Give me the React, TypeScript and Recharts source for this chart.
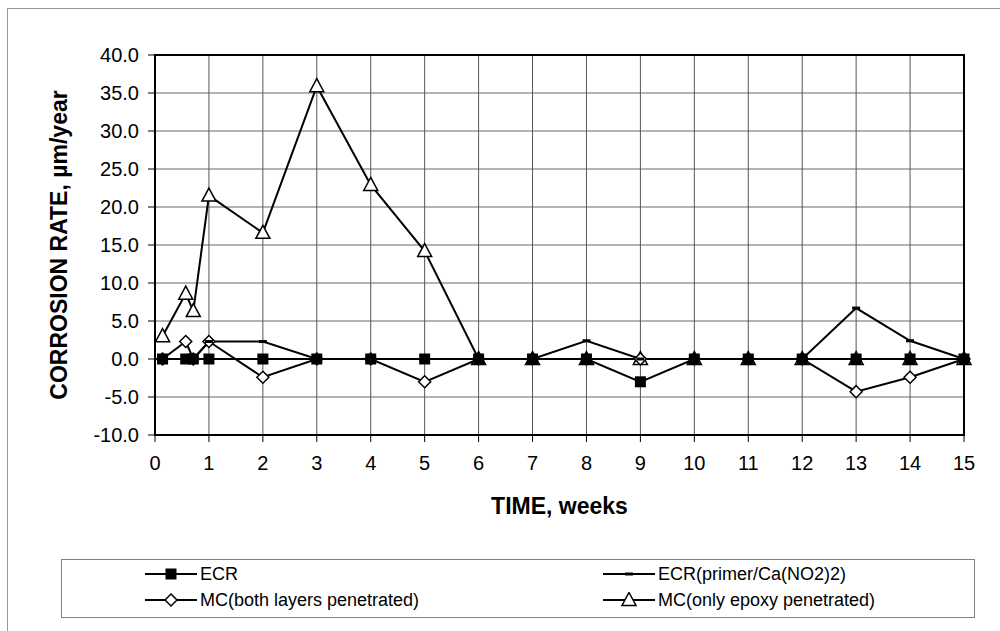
import React from 'react';
import {
  LineChart,
  Line,
  XAxis,
  YAxis,
  CartesianGrid,
  ReferenceArea,
} from 'recharts';

// ---- data ----
const weeks = [0.14, 0.57, 0.71, 1, 2, 3, 4, 5, 6, 7, 8, 9, 10, 11, 12, 13, 14, 15];
const ecr = [0, 0, 0, 0, 0, 0, 0, 0, 0, 0, 0, -3.0, 0, 0, 0, 0, 0, 0];
const ecrPrimer = [0, 0, 0, 2.3, 2.3, 0, 0, 0, 0, 0, 2.4, 0, 0, 0, 0, 6.7, 2.4, 0];
const mcBoth = [0, 2.3, 0, 2.3, -2.4, 0, 0, -3.0, 0, 0, 0, 0, 0, 0, 0, -4.3, -2.4, 0];
const mcEpoxy = [3.0, 8.6, 6.3, 21.5, 16.6, 35.9, 22.9, 14.2, 0, 0, 0, 0, 0, 0, 0, 0, 0, 0];

const xTicks = [0, 1, 2, 3, 4, 5, 6, 7, 8, 9, 10, 11, 12, 13, 14, 15];
const yTicks = [-10, -5, 0, 5, 10, 15, 20, 25, 30, 35, 40];

const seriesNames = {
  ecr: 'ECR',
  ecrPrimer: 'ECR(primer/Ca(NO2)2)',
  mcBoth: 'MC(both layers penetrated)',
  mcEpoxy: 'MC(only epoxy penetrated)',
};

const rows = weeks.map((t, i) => ({
  t,
  ecr: ecr[i],
  ecrPrimer: ecrPrimer[i],
  mcBoth: mcBoth[i],
  mcEpoxy: mcEpoxy[i],
}));

const FONT = '"Liberation Sans", Arial, sans-serif';

// ---- marker shapes ----
const Square = ({ cx, cy }: any) => <rect x={cx - 5.5} y={cy - 5.5} width={11} height={11} fill="#000" />;
const Dash = ({ cx, cy }: any) => <rect x={cx - 4} y={cy - 1.5} width={8} height={3} fill="#000" />;
const Diamond = ({ cx, cy }: any) => (
  <path d={`M${cx},${cy - 6} L${cx + 6},${cy} L${cx},${cy + 6} L${cx - 6},${cy} Z`} fill="#fff" stroke="#000" strokeWidth={1.5} />
);
const Triangle = ({ cx, cy }: any) => (
  <path d={`M${cx},${cy - 7.5} L${cx + 7},${cy + 5.5} L${cx - 7},${cy + 5.5} Z`} fill="#fff" stroke="#000" strokeWidth={1.5} />
);

const dotFn = (Shape: any, tag: string) => (p: any) => {
  if (p.cx == null || p.cy == null) return <g key={`${tag}-${p.index}`} />;
  return (
    <g key={`${tag}-${p.index}`}>
      <Shape cx={p.cx} cy={p.cy} />
    </g>
  );
};

const LegendIcon = ({ Shape }: any) => (
  <svg width={52} height={16} style={{ display: 'block' }}>
    <line x1={0} y1={8} x2={52} y2={8} stroke="#000" strokeWidth={2} />
    <Shape cx={26} cy={8} />
  </svg>
);

const legendItems = [
  { key: 'ecr', Shape: Square, left: 145, top: 574 },
  { key: 'ecrPrimer', Shape: Dash, left: 603, top: 574 },
  { key: 'mcBoth', Shape: Diamond, left: 145, top: 600 },
  { key: 'mcEpoxy', Shape: Triangle, left: 603, top: 600 },
];

export default function App() {
  return (
    <div
      style={{
        position: 'fixed',
        left: 0,
        top: 0,
        width: 1000,
        height: 631,
        overflow: 'hidden',
        background: '#fff',
        fontFamily: FONT,
      }}
    >
      <div
        style={{
          position: 'absolute',
          left: 7,
          top: 8,
          width: 1100,
          height: 800,
          border: '1px solid #999',
        }}
      />
      <div style={{ position: 'absolute', left: 0, top: 0 }}>
        <LineChart width={1000} height={631} data={rows} margin={{ top: 55, right: 36, bottom: 166, left: 95 }}>
          <CartesianGrid horizontal={true} vertical={false} stroke="#9a9a9a" strokeWidth={1.5} />
          <CartesianGrid horizontal={false} vertical={true} stroke="#555" strokeWidth={1} />
          <XAxis
            dataKey="t"
            type="number"
            domain={[0, 15]}
            ticks={xTicks}
            interval={0}
            height={30}
            axisLine={{ stroke: '#000', strokeWidth: 2 }}
            tickLine={{ stroke: '#000', strokeWidth: 1 }}
            tickSize={7}
            tickMargin={14}
            tick={{ fill: '#000', fontSize: 20, fontFamily: FONT }}
            label={(props: any) => {
              const vb = props.viewBox || { x: 155, y: 435, width: 809 };
              return (
                <text
                  x={vb.x + vb.width / 2}
                  y={vb.y + 79}
                  textAnchor="middle"
                  fontFamily={FONT}
                  fontSize={23}
                  fontWeight="bold"
                  fill="#000"
                >
                  TIME, weeks
                </text>
              );
            }}
          />
          <YAxis
            type="number"
            domain={[-10, 40]}
            ticks={yTicks}
            interval={0}
            width={60}
            axisLine={{ stroke: '#000', strokeWidth: 2 }}
            tickLine={{ stroke: '#000', strokeWidth: 1 }}
            tickSize={7}
            tickMargin={9}
            tickFormatter={(v: number) => v.toFixed(1)}
            tick={{ fill: '#000', fontSize: 20, fontFamily: FONT }}
            label={(props: any) => {
              const vb = props.viewBox || { x: 95, y: 55, height: 380 };
              const x = vb.x - 36;
              const y = vb.y + vb.height / 2;
              return (
                <text
                  x={x}
                  y={y}
                  transform={`rotate(-90, ${x}, ${y})`}
                  textAnchor="middle"
                  dominantBaseline="central"
                  fontFamily={FONT}
                  fontSize={23}
                  fontWeight="bold"
                  fill="#000"
                >
                  CORROSION RATE, µm/year
                </text>
              );
            }}
          />
          <ReferenceArea x1={0} x2={15} y1={-10} y2={40} fill="none" stroke="#000" strokeWidth={2} ifOverflow="visible" />
          <Line
            dataKey="mcEpoxy"
            name={seriesNames.mcEpoxy}
            stroke="#000"
            strokeWidth={2}
            dot={dotFn(Triangle, 'tri')}
            activeDot={false}
            isAnimationActive={false}
          />
          <Line
            dataKey="mcBoth"
            name={seriesNames.mcBoth}
            stroke="#000"
            strokeWidth={2}
            dot={dotFn(Diamond, 'dia')}
            activeDot={false}
            isAnimationActive={false}
          />
          <Line
            dataKey="ecrPrimer"
            name={seriesNames.ecrPrimer}
            stroke="#000"
            strokeWidth={2}
            dot={dotFn(Dash, 'dash')}
            activeDot={false}
            isAnimationActive={false}
          />
          <Line
            dataKey="ecr"
            name={seriesNames.ecr}
            stroke="#000"
            strokeWidth={2}
            dot={dotFn(Square, 'sq')}
            activeDot={false}
            isAnimationActive={false}
          />
        </LineChart>
      </div>
      <div
        style={{
          position: 'absolute',
          left: 61,
          top: 559,
          width: 914,
          height: 59,
          border: '1px solid #808080',
          boxSizing: 'border-box',
        }}
      />
      {legendItems.map((it) => (
        <div
          key={it.key}
          style={{
            position: 'absolute',
            left: it.left,
            top: it.top - 11,
            height: 22,
            display: 'flex',
            alignItems: 'center',
            fontSize: 18,
            color: '#000',
            whiteSpace: 'nowrap',
          }}
        >
          <LegendIcon Shape={it.Shape} />
          <span style={{ marginLeft: 3 }}>{(seriesNames as any)[it.key]}</span>
        </div>
      ))}
    </div>
  );
}
